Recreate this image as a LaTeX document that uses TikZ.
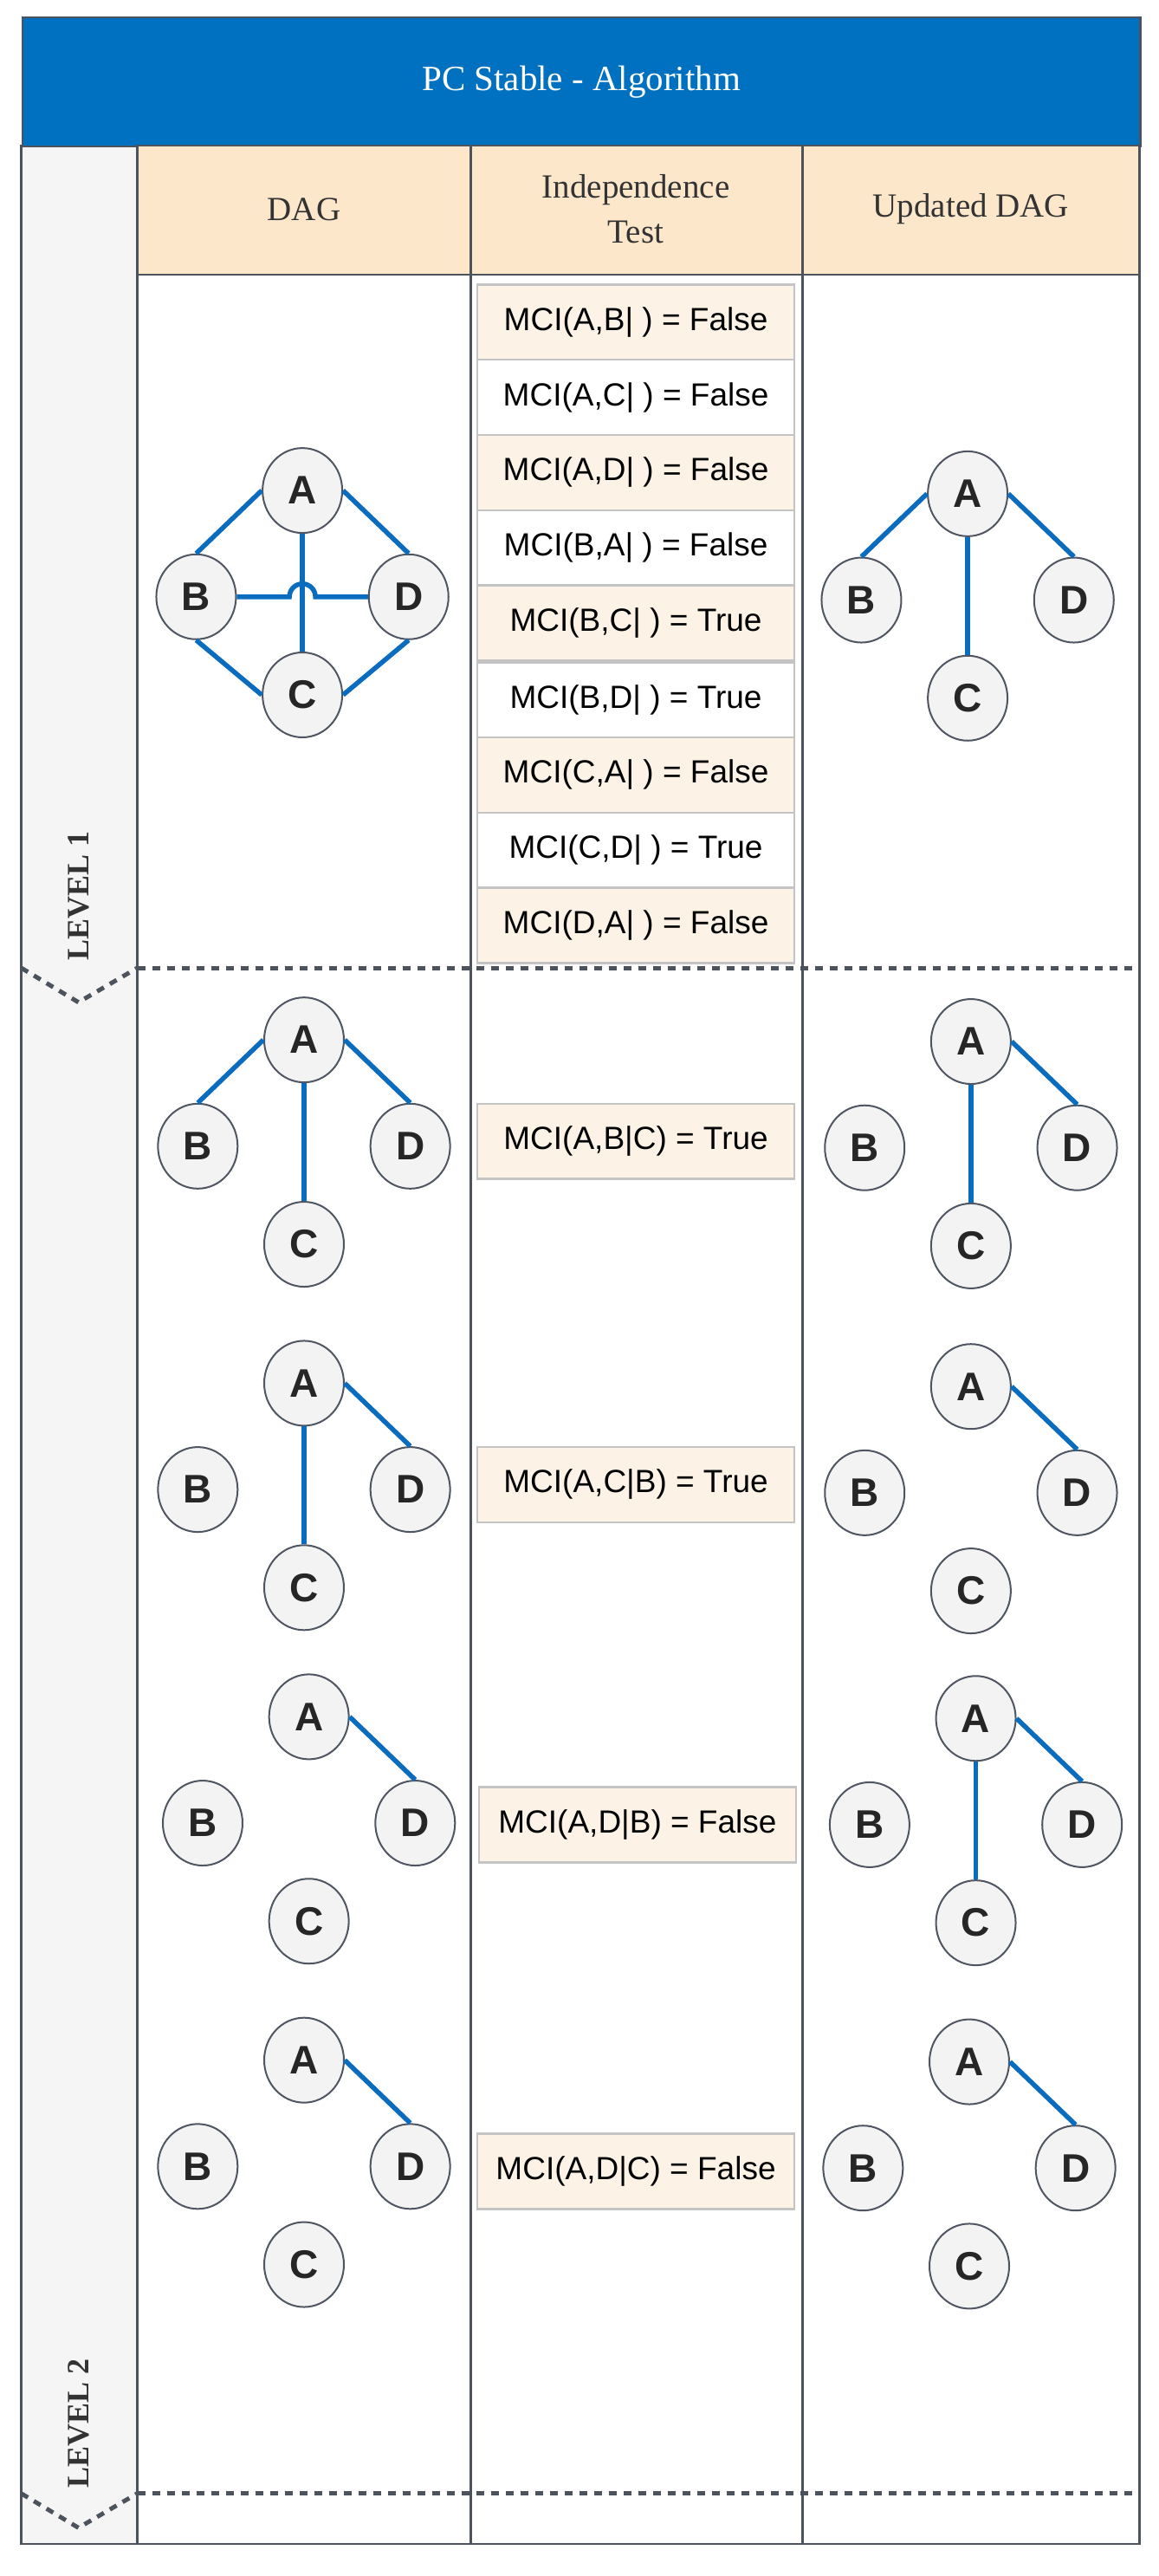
\documentclass[tikz,border=0pt]{standalone}
\usepackage{fontspec}
\usetikzlibrary{shapes.geometric}
\setmainfont{Liberation Sans}
\newfontfamily\serifF{Liberation Serif}
\begin{document}
\begin{tikzpicture}[x=1.887pt,y=-1.887pt,
  nd/.style={ellipse,draw=nodeedge,line width=2pt,fill=nodefill,minimum width=92pt,minimum height=98pt,inner sep=0pt,font=\fontsize{46}{48}\selectfont\bfseries,text=black!85},
  edge/.style={draw=edgeblue,line width=5.5pt},
  tbox/.style={draw=boxedge,line width=2.5pt,minimum width=194*1.887pt,minimum height=46*1.887pt,inner sep=0pt,font=\fontsize{37}{40}\selectfont},
  cream/.style={tbox,fill=creamfill},
  white/.style={tbox,fill=white},
  hdr/.style={draw=gridline,line width=2.5pt,fill=hdrfill},
  grid/.style={draw=gridline,line width=2.5pt},
  dotline/.style={draw=gridline,line width=5pt,dash pattern=on 9pt off 8pt},
  lvl/.style={rotate=90,font=\serifF\fontsize{36}{38}\selectfont\bfseries,text=black!80}]
\definecolor{nodeedge}{HTML}{4F5661}
\definecolor{nodefill}{HTML}{F3F3F4}
\definecolor{edgeblue}{HTML}{0A6CBE}
\definecolor{boxedge}{HTML}{C4C4C4}
\definecolor{creamfill}{HTML}{FDF2E6}
\definecolor{hdrfill}{HTML}{FDE7CB}
\definecolor{gridline}{HTML}{4D535C}
\definecolor{titleblue}{HTML}{0070C0}
\useasboundingbox (0,0) rectangle (709,1575.5);
% frame
\fill[black!4] (13,89) rectangle (84,1556);
\draw[grid] (13,89) rectangle (84,1556);
\node[fill=titleblue,draw=gridline,line width=2.5pt,minimum width=684*1.887pt,minimum height=79*1.887pt,text=white,font=\serifF\fontsize{41}{44}\selectfont,anchor=north west] (title) at (13,10) {PC Stable - Algorithm};
\draw[hdr] (84,89) rectangle (288,168);
\draw[hdr] (288,89) rectangle (491,168);
\draw[hdr] (491,89) rectangle (697,168);
\node[font=\serifF\fontsize{39}{41}\selectfont,text=black!80] (h1) at (186,128) {DAG};
\node[font=\serifF\fontsize{39}{52}\selectfont,text=black!80,align=center] (h2) at (389,128) {Independence\\Test};
\node[font=\serifF\fontsize{39}{41}\selectfont,text=black!80] (h3) at (594,128) {Updated DAG};
\draw[grid] (84,168) -- (84,1556) -- (697,1556) -- (697,168);
\draw[grid] (288,168) -- (288,1556);
\draw[grid] (491,168) -- (491,1556);
% dotted level separators
\draw[dotline] (84,592) -- (697,592);
\draw[dotline] (84,1525) -- (697,1525);
\draw[dotline] (13,592) -- (48,613) -- (84,592);
\draw[dotline] (13,1525) -- (48,1546) -- (84,1525);
\node[lvl] (l1) at (48,548) {LEVEL 1};
\node[lvl] (l2) at (48,1482) {LEVEL 2};
% tests level 1
\node[cream] (t1) at (389,197) {MCI(A,B| ) = False};
\node[white] (t2) at (389,243) {MCI(A,C| ) = False};
\node[cream] (t3) at (389,289) {MCI(A,D| ) = False};
\node[white] (t4) at (389,335) {MCI(B,A| ) = False};
\node[cream] (t5) at (389,381) {MCI(B,C| ) = True};
\node[white] (t6) at (389,428) {MCI(B,D| ) = True};
\node[cream] (t7) at (389,474) {MCI(C,A| ) = False};
\node[white] (t8) at (389,520) {MCI(C,D| ) = True};
\node[cream] (t9) at (389,566) {MCI(D,A| ) = False};
% tests level 2
\node[cream] (u1) at (389,698) {MCI(A,B|C) = True};
\node[cream] (u2) at (389,908) {MCI(A,C|B) = True};
\node[cream] (u3) at (390,1116) {MCI(A,D|B) = False};
\node[cream] (u4) at (389,1328) {MCI(A,D|C) = False};
% graph macro
\newcommand\mygraph[3]{%
  \node[nd] (#1A) at (#2,#3) {A};
  \node[nd] (#1B) at (#2-65,#3+65) {B};
  \node[nd] (#1D) at (#2+65,#3+65) {D};
  \node[nd] (#1C) at (#2,#3+125) {C};}
\mygraph{g}{185}{300}
\mygraph{h}{592}{302}
\mygraph{p}{186}{636}
\mygraph{q}{594}{637}
\mygraph{r}{186}{846}
\mygraph{s}{594}{848}
\mygraph{m}{189}{1050}
\mygraph{n}{597}{1051}
\mygraph{v}{186}{1260}
\mygraph{w}{593}{1261}
% level 1 edges
\draw[edge] (gA.west) -- (gB.north);
\draw[edge] (gA.east) -- (gD.north);
\draw[edge] (gA) -- (gC);
\draw[edge] (gB.south) -- (gC.west);
\draw[edge] (gD.south) -- (gC.east);
\draw[edge] (gB.east) -- ([xshift=-15pt]gB.east -| gA.south) arc[start angle=180,end angle=0,radius=15pt] -- (gD.west);
\draw[edge] (hA.west) -- (hB.north);
\draw[edge] (hA.east) -- (hD.north);
\draw[edge] (hA) -- (hC);
% level 2 edges
\draw[edge] (pA.west) -- (pB.north);
\draw[edge] (pA) -- (pC);
\draw[edge] (pA.east) -- (pD.north);
\draw[edge] (qA) -- (qC);
\draw[edge] (qA.east) -- (qD.north);
\draw[edge] (rA) -- (rC);
\draw[edge] (rA.east) -- (rD.north);
\draw[edge] (sA.east) -- (sD.north);
\draw[edge] (mA.east) -- (mD.north);
\draw[edge] (nA) -- (nC);
\draw[edge] (nA.east) -- (nD.north);
\draw[edge] (vA.east) -- (vD.north);
\draw[edge] (wA.east) -- (wD.north);
\end{tikzpicture}
\end{document}
